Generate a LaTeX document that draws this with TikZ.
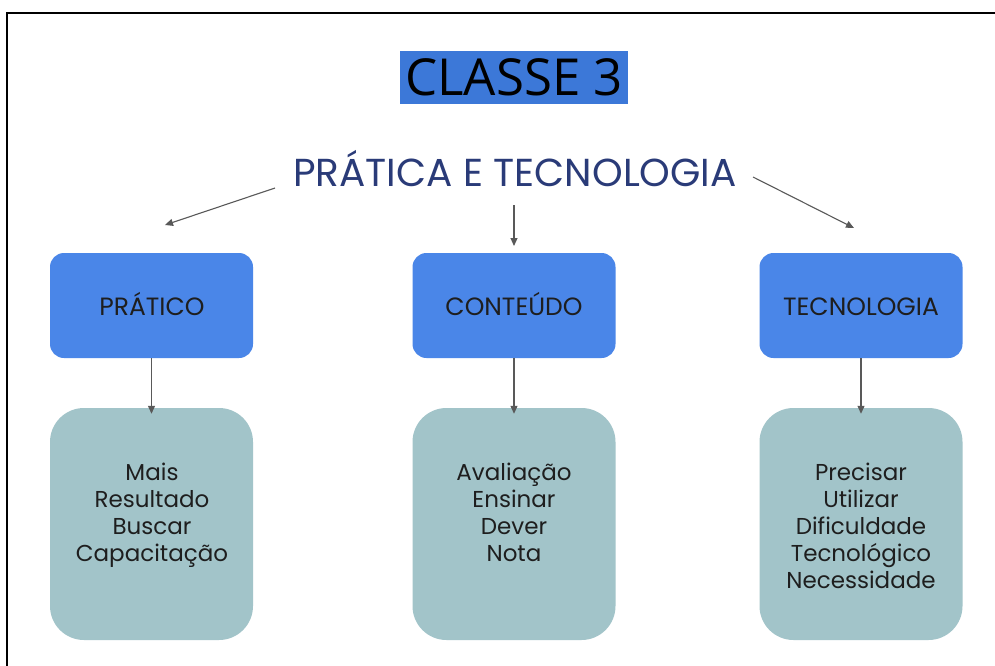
\documentclass[tikz,border=0pt]{standalone}
\usepackage{fontspec}
\setmainfont{Poppins}
\newfontfamily\titlefont{Open Sans}
\newfontfamily\bodyfont{Poppins}
\usetikzlibrary{arrows.meta}
\definecolor{titleblue}{HTML}{3C78D8}
\definecolor{headnavy}{HTML}{2A3B78}
\definecolor{boxblue}{HTML}{4A86E8}
\definecolor{boxteal}{HTML}{A2C4C9}
\definecolor{arrowgrey}{HTML}{595959}
\definecolor{txtdark}{HTML}{1E1E1E}
\tikzset{
  catbox/.style={fill=boxblue, draw=none, rounded corners=14pt, minimum width=203pt, minimum height=105pt, inner sep=0pt},
  catlabel/.style={font=\fontsize{25}{28}\selectfont, text=txtdark, anchor=base, inner sep=0pt},
  listbox/.style={fill=boxteal, draw=none, rounded corners=34pt, minimum width=203pt, minimum height=232pt, inner sep=0pt},
  listtext/.style={font=\bodyfont\fontsize{23}{27}\selectfont, text=txtdark, align=center, anchor=north, inner sep=0pt},
  link/.style={draw=arrowgrey, line width=1.1pt, -{Triangle[length=8pt,width=7pt]}}
}
\begin{document}
\begin{tikzpicture}[x=1pt,y=-1pt]
\useasboundingbox (0,0) rectangle (995,666);
\fill[white] (0,0) rectangle (995,666);
% frame
\draw[black, line width=2pt] (7,666) -- (7,13) -- (995,13);
% title
\node[fill=titleblue, minimum width=228pt, minimum height=53pt, inner sep=0pt,
      font=\titlefont\fontsize{51}{56}\selectfont, text=black] (title) at (514,77.5) {CLASSE 3};
% header
\node[font=\fontsize{39}{44}\selectfont, text=headnavy, inner sep=0pt] (head) at (515,169) {PRÁTICA E TECNOLOGIA};
% category boxes
\node[catbox] (b1) at (151.5,305.5) {};
\node[catbox] (b2) at (514,305.5) {};
\node[catbox] (b3) at (861,305.5) {};
\node[catlabel] (l1) at (152,315) {PRÁTICO};
\node[catlabel] (l2) at (514,315) {CONTEÚDO};
\node[catlabel] (l3) at (861,315) {TECNOLOGIA};
% list boxes
\node[listbox] (c1) at (151.5,524) {};
\node[listbox] (c2) at (514,524) {};
\node[listbox] (c3) at (861,524) {};
\node[listtext] (t1) at (152,463) {Mais\\Resultado\\Buscar\\Capacitação};
\node[listtext] (t2) at (514,463) {Avaliação\\Ensinar\\Dever\\Nota};
\node[listtext] (t3) at (861,463) {Precisar\\Utilizar\\Dificuldade\\Tecnológico\\Necessidade};
% connectors from header
\coordinate (hl) at (275,188);
\coordinate (hlend) at (165,225);
\coordinate (hc) at (514,205);
\coordinate (hcend) at (514,246);
\coordinate (hr) at (753,177);
\coordinate (hrend) at (854,228);
\draw[link] (hl) -- (hlend);
\draw[link] (hc) -- (hcend);
\draw[link] (hr) -- (hrend);
% connectors box to list
\draw[link] (b1.south) -- ([yshift=-6pt]c1.north);
\draw[link] (b2.south) -- ([yshift=-6pt]c2.north);
\draw[link] (b3.south) -- ([yshift=-6pt]c3.north);
\end{tikzpicture}
\end{document}
